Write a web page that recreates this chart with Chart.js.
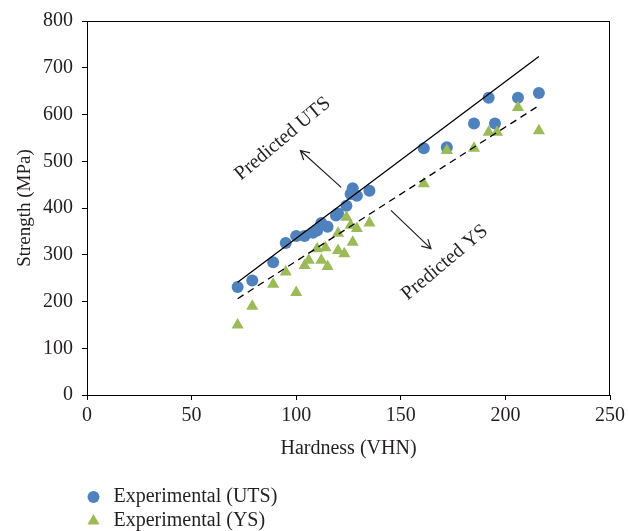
<!DOCTYPE html>
<html>
<head>
<meta charset="utf-8">
<script src="https://cdn.jsdelivr.net/npm/chart.js@4.4.0/dist/chart.umd.min.js"></script>
<style>
  html, body { margin: 0; padding: 0; background: #fff; }
  canvas { display: block; }
</style>
</head>
<body>
<canvas id="c" width="629" height="531"></canvas>
<script>
// experimental points
const utsHardness = [72, 79, 89, 95, 100, 104, 108, 110, 112, 115, 119, 120, 124, 126, 127, 129, 135, 161, 172, 185, 192, 195, 206, 216];
const utsStrength = [231, 245, 284, 325, 340, 340, 347, 352, 368, 360, 384, 388, 405, 430, 442, 426, 437, 528, 530, 581, 636, 581, 636, 646];
const ysHardness = [72, 79, 89, 95, 100, 104, 106, 110, 112, 114, 115, 120, 120, 123, 124, 126, 127, 129, 135, 161, 172, 185, 192, 196, 206, 216];
const ysStrength = [150, 190, 237, 263, 219, 277, 288, 313, 288, 315, 275, 309, 346, 302, 380, 363, 327, 356, 368, 452, 523, 528, 562, 562, 615, 565];
// predicted lines (end points)
const predHardness = [72, 216];
const predUTS = [241, 724];
const predYS = [206, 619];

const xTicks = [0, 50, 100, 150, 200, 250];
const yTicks = [0, 100, 200, 300, 400, 500, 600, 700, 800];

const FONT = "'Liberation Serif', 'Times New Roman', serif";
const BLUE = "#4f81bd", GREEN = "#9bbb59", INK = "#231f20";

const pts = (xs, ys) => xs.map((v, i) => ({ x: v, y: ys[i] }));

// arrows + rotated labels, given in data units
const notes = [
  { text: "Predicted UTS", at: [93.6, 548], from: [121.5, 444], to: [102, 523] },
  { text: "Predicted YS", at: [171, 283], from: [145.3, 395], to: [164.4, 313] },
];

function marker(ctx, style, x, y, r) {
  ctx.beginPath();
  if (style === "triangle") {
    ctx.moveTo(x, y - r);
    ctx.lineTo(x + r * Math.sin(Math.PI / 3), y + r / 2);
    ctx.lineTo(x - r * Math.sin(Math.PI / 3), y + r / 2);
    ctx.closePath();
  } else ctx.arc(x, y, r, 0, Math.PI * 2);
  ctx.fill();
}

const extras = {
  id: "extras",
  afterDraw(chart) {
    const { ctx, chartArea: a, scales: { x, y } } = chart;
    ctx.save();
    // frame
    ctx.strokeStyle = "#000"; ctx.lineWidth = 1;
    ctx.strokeRect(Math.round(a.left) + 0.5, Math.round(a.top) + 0.5, Math.round(a.right - a.left) - 1, Math.round(a.bottom - a.top));

    // annotations
    ctx.fillStyle = INK; ctx.strokeStyle = INK; ctx.lineWidth = 1.2;
    ctx.font = "20px " + FONT;
    ctx.textAlign = "center"; ctx.textBaseline = "middle";
    notes.forEach((n) => {
      ctx.save();
      ctx.translate(x.getPixelForValue(n.at[0]), y.getPixelForValue(n.at[1]));
      ctx.rotate(-40 * Math.PI / 180);
      ctx.fillText(n.text, 0, 0);
      ctx.restore();
      const x1 = x.getPixelForValue(n.from[0]), y1 = y.getPixelForValue(n.from[1]);
      const x2 = x.getPixelForValue(n.to[0]), y2 = y.getPixelForValue(n.to[1]);
      const ang = Math.atan2(y2 - y1, x2 - x1), h = 10;
      ctx.beginPath();
      ctx.moveTo(x1, y1); ctx.lineTo(x2, y2);
      ctx.moveTo(x2 - h * Math.cos(ang - 0.5), y2 - h * Math.sin(ang - 0.5));
      ctx.lineTo(x2, y2);
      ctx.lineTo(x2 - h * Math.cos(ang + 0.5), y2 - h * Math.sin(ang + 0.5));
      ctx.stroke();
    });

    // legend, stacked under the axis title
    ctx.textAlign = "left";
    chart.data.datasets.filter((d) => d.inLegend).forEach((d, i) => {
      const ly = 497 + i * 24;
      ctx.fillStyle = d.backgroundColor;
      marker(ctx, d.pointStyle, 93.5, ly, d.pointStyle === "triangle" ? 7 : 6);
      ctx.fillStyle = INK;
      ctx.fillText(d.label, 113.5, ly);
    });
    ctx.restore();
  },
};

new Chart(document.getElementById("c"), {
  type: "scatter",
  data: {
    datasets: [
      { label: "Predicted UTS", type: "line", data: pts(predHardness, predUTS), borderColor: "#000", borderWidth: 1.3, pointRadius: 0, order: 0 },
      { label: "Predicted YS", type: "line", data: pts(predHardness, predYS), borderColor: "#000", borderWidth: 1.3, borderDash: [7, 5], pointRadius: 0, order: 0 },
      { label: "Experimental (UTS)", inLegend: true, data: pts(utsHardness, utsStrength), backgroundColor: BLUE, borderWidth: 0, pointStyle: "circle", pointRadius: 6, order: 2 },
      { label: "Experimental (YS)", inLegend: true, data: pts(ysHardness, ysStrength), backgroundColor: GREEN, borderWidth: 0, pointStyle: "triangle", pointRadius: 7, order: 1 },
    ],
  },
  options: {
    responsive: false,
    animation: false,
    events: [],
    layout: { padding: { top: 20, right: 16, bottom: 0, left: 0 } },
    plugins: { legend: { display: false }, tooltip: { enabled: false } },
    scales: {
      x: {
        type: "linear", min: 0, max: 250,
        afterBuildTicks: (s) => { s.ticks = xTicks.map((v) => ({ value: v })); },
        afterFit: (s) => { s.height = 136; },
        border: { display: false },
        grid: { drawOnChartArea: false, drawTicks: true, tickLength: 5, color: "#000" },
        ticks: { color: INK, padding: 4, font: { family: FONT, size: 20 } },
        title: { display: true, text: "Hardness (VHN)", color: INK, font: { family: FONT, size: 20 }, padding: { top: 0, bottom: 70 } },
      },
      y: {
        type: "linear", min: 0, max: 800,
        afterBuildTicks: (s) => { s.ticks = yTicks.map((v) => ({ value: v })); },
        afterFit: (s) => { s.width = 87; },
        border: { display: false },
        grid: { drawOnChartArea: false, drawTicks: true, tickLength: 5, color: "#000" },
        ticks: { color: INK, padding: 9, font: { family: FONT, size: 20 } },
        title: { display: true, text: "Strength (MPa)", color: INK, font: { family: FONT, size: 19 }, padding: { top: 14, bottom: 0 } },
      },
    },
  },
  plugins: [extras],
});
</script>
</body>
</html>
